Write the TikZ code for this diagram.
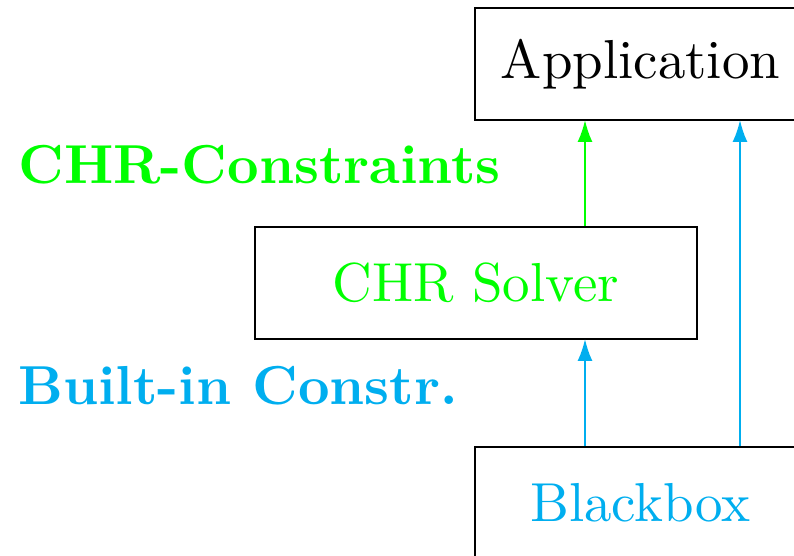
\documentclass[tikz,border=0pt]{standalone}
\usetikzlibrary{arrows.meta}
\definecolor{chrgreen}{RGB}{0,255,0}
\definecolor{bicyan}{RGB}{0,174,239}
\newcommand{\bigtxt}[1]{\scalebox{2.745}{\fontsize{10}{12}\selectfont #1}}
\tikzset{
  box/.style={draw=black, line width=1pt, minimum height=56pt, inner sep=0pt},
  lbl/.style={anchor=base west, inner sep=0pt},
  arr/.style={line width=1pt, -{Latex[length=11pt,width=7.5pt]}, shorten >=-0.5pt}
}
\begin{document}
\begin{tikzpicture}[x=0.5pt,y=-0.5pt]
\useasboundingbox (0,0) rectangle (794,556);
\clip (0,0) rectangle (794,556);
\node[box, minimum width=165.5pt] (app) at (640.5,64) {\bigtxt{Application}};
\node[box, minimum width=221pt, text=chrgreen] (solver) at (476,283) {\bigtxt{CHR Solver}};
\node[box, minimum width=165.5pt, text=bicyan] (bb) at (640.5,503) {\bigtxt{Blackbox}};
\node[lbl, text=chrgreen] (chrc) at (18,184) {\bigtxt{\bfseries CHR-Constraints}};
\node[lbl, text=bicyan] (bic) at (18,404) {\bigtxt{\bfseries Built-in Constr.}};
\coordinate (xa) at (585,0);
\coordinate (xb) at (740,0);
\draw[arr, chrgreen] (solver.north -| xa) -- (app.south -| xa);
\draw[arr, bicyan] (bb.north -| xa) -- (solver.south -| xa);
\draw[arr, bicyan] (bb.north -| xb) -- (app.south -| xb);
\end{tikzpicture}
\end{document}
